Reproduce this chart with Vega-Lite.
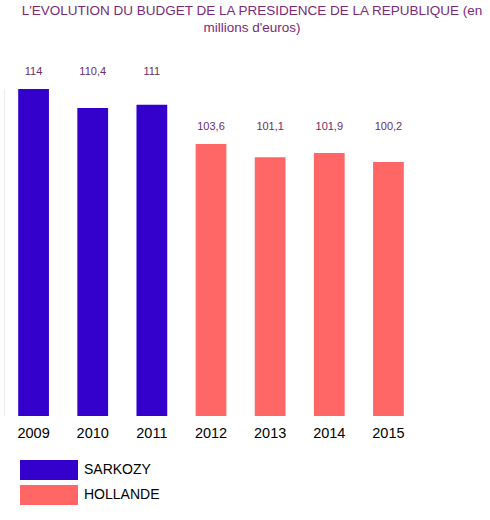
{
  "$schema": "https://vega.github.io/schema/vega-lite/v6.json",
  "autosize": "none",
  "width": 414,
  "height": 327,
  "padding": {"left": 4, "top": 89, "right": 72, "bottom": 104},
  "title": {
    "text": ["L'EVOLUTION DU BUDGET DE LA PRESIDENCE DE LA REPUBLIQUE (en", "millions d'euros)"],
    "font": "Liberation Sans",
    "fontSize": 13.5,
    "fontWeight": "normal",
    "color": "#7a2a7a",
    "anchor": "middle",
    "dx": 41,
    "offset": 32,
    "lineHeight": 17
  },
  "data": {
    "values": [
      {"annee": "2009", "budget": 114, "label": "114", "president": "SARKOZY"},
      {"annee": "2010", "budget": 110.4, "label": "110,4", "president": "SARKOZY"},
      {"annee": "2011", "budget": 111, "label": "111", "president": "SARKOZY"},
      {"annee": "2012", "budget": 103.6, "label": "103,6", "president": "HOLLANDE"},
      {"annee": "2013", "budget": 101.1, "label": "101,1", "president": "HOLLANDE"},
      {"annee": "2014", "budget": 101.9, "label": "101,9", "president": "HOLLANDE"},
      {"annee": "2015", "budget": 100.2, "label": "100,2", "president": "HOLLANDE"}
    ]
  },
  "transform": [
    {"joinaggregate": [{"op": "max", "field": "budget", "as": "max_budget"}], "groupby": ["president"]}
  ],
  "config": {
    "view": {"stroke": null},
    "font": "Liberation Sans"
  },
  "encoding": {
    "x": {
      "field": "annee",
      "type": "ordinal",
      "scale": {"paddingInner": 0.48, "paddingOuter": 0.24},
      "axis": {
        "title": null,
        "labelAngle": 0,
        "ticks": false,
        "domain": false,
        "labelFontSize": 14.5,
        "labelColor": "#000000",
        "labelPadding": 10,
        "labelFont": "Liberation Sans"
      }
    }
  },
  "layer": [
    {
      "mark": {"type": "bar"},
      "encoding": {
        "y": {
          "field": "budget",
          "type": "quantitative",
          "scale": {"domain": [52.2, 114], "zero": false, "nice": false},
          "axis": {
            "title": null,
            "labels": false,
            "ticks": false,
            "grid": false,
            "domainColor": "#ececec"
          }
        },
        "y2": {"datum": 52.2},
        "color": {
          "field": "president",
          "type": "nominal",
          "scale": {"domain": ["SARKOZY", "HOLLANDE"], "range": ["#3300cc", "#ff6666"]},
          "legend": {
            "title": null,
            "orient": "none",
            "legendX": 16,
            "legendY": 371,
            "direction": "vertical",
            "symbolType": "M-1,-1H4.8V1H-1Z",
            "symbolSize": 400,
            "symbolStrokeWidth": 0,
            "symbolOpacity": 1,
            "labelFontSize": 14,
            "labelColor": "#000000",
            "labelFont": "Liberation Sans",
            "labelOffset": 44,
            "rowPadding": 5
          }
        }
      }
    },
    {
      "mark": {"type": "text", "fontSize": 11, "color": "#6b2d6b", "baseline": "middle", "dy": -17},
      "encoding": {
        "y": {"field": "max_budget", "type": "quantitative"},
        "text": {"field": "label"}
      }
    }
  ]
}
